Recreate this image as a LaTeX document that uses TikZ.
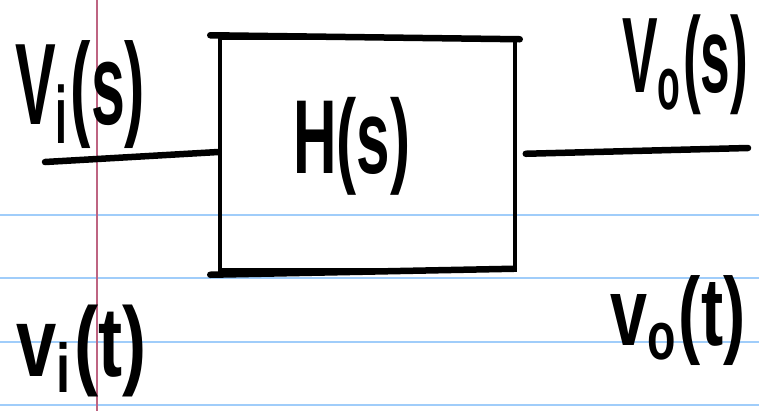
\documentclass[tikz,border=0pt]{standalone}
\usepackage{fontspec}
\setmainfont{Liberation Sans}
\definecolor{ruleblue}{RGB}{160,205,250}
\definecolor{marginpink}{RGB}{190,100,130}
\begin{document}
\begin{tikzpicture}[x=1bp,y=-1bp,
  ink/.style={line width=6.5bp,line cap=round,line join=round},
  sideink/.style={line width=3.5bp,line cap=round},
  ruled/.style={ruleblue,line width=1.8bp},
  lbl/.style={inner sep=0pt,anchor=north west,font=\bfseries}]
\useasboundingbox (0,0) rectangle (759,411);
\fill[white] (0,0) rectangle (759,411);
% notebook paper
\foreach \y in {215,278,342,405} \draw[ruled] (0,\y) -- (759,\y);
\draw[marginpink,line width=1.5bp] (97,0) -- (97,411);
% block
\node[draw,sideink,minimum width=295bp,minimum height=232bp,inner sep=0pt] (H) at (367.5,154) {};
\draw[ink] ([xshift=-8bp,yshift=1bp]H.north west) -- ([xshift=3bp,yshift=-3bp]H.north east);
\draw[ink] ([xshift=-8bp,yshift=-3bp]H.south west) -- ([xshift=-3bp,yshift=3bp]H.south east);
\node[lbl] (Hs) at (293,97) {\resizebox*{117bp}{98bp}{H(s)}};
% signal lines
\coordinate (vin) at (45,162);
\coordinate (vout) at (748,148);
\draw[ink] (vin) -- ([yshift=2bp]H.west);
\draw[ink,shorten <=9bp] (H.east) -- (vout);
% labels
\node[lbl] (Vis) at (15,40) {\resizebox*{130bp}{108bp}{V\textsubscript{i}(s)}};
\node[lbl] (Vos) at (622,15) {\resizebox*{126bp}{100bp}{V\textsubscript{o}(s)}};
\node[lbl] (vit) at (16,305) {\resizebox*{130bp}{92bp}{v\textsubscript{i}(t)}};
\node[lbl] (vot) at (610,275) {\resizebox*{135bp}{90bp}{v\textsubscript{o}(t)}};
\end{tikzpicture}
\end{document}
